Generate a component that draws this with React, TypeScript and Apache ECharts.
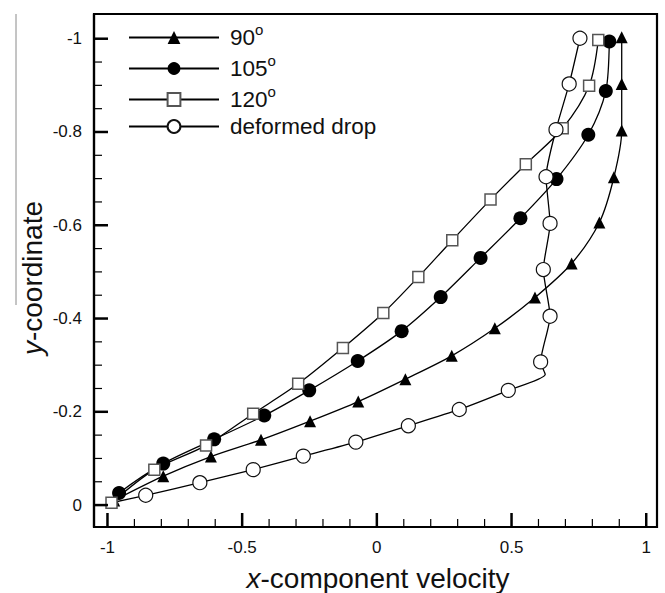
import React, { useEffect, useRef } from 'react';
import * as echarts from 'echarts';

// ---- data ----
const seriesNames = ['90°', '105°', '120°', 'deformed drop'];
const legendLabels = ['90{sup|o}', '105{sup|o}', '120{sup|o}', 'deformed drop'];

// axis extents (the frame reaches a little past the labelled range)
const xExtent = [-1.05, 1.04];
const yExtent = [-1.053, 0.047];
const xMajorTicks = [-1, -0.5, 0, 0.5, 1];
const xMinorTicks = [-0.9, -0.8, -0.7, -0.6, -0.4, -0.3, -0.2, -0.1, 0.1, 0.2, 0.3, 0.4, 0.6, 0.7, 0.8, 0.9];
const yMajorTicks = [-1, -0.8, -0.6, -0.4, -0.2, 0];
const yMinorTicks = [-0.95, -0.9, -0.85, -0.75, -0.7, -0.65, -0.55, -0.5, -0.45, -0.35, -0.3, -0.25, -0.15, -0.1, -0.05];

// 90 degrees (triangles)
const tri90X = [-0.975, -0.793, -0.616, -0.43, -0.248, -0.069, 0.106, 0.278, 0.438, 0.587, 0.723, 0.826, 0.88, 0.909, 0.909, 0.909];
const tri90Y = [-0.01, -0.062, -0.104, -0.14, -0.18, -0.222, -0.27, -0.32, -0.379, -0.445, -0.518, -0.606, -0.703, -0.803, -0.903, -1.003];

// 105 degrees (filled circles)
const dot105X = [-0.985, -0.957, -0.793, -0.604, -0.418, -0.251, -0.071, 0.092, 0.237, 0.385, 0.533, 0.667, 0.785, 0.85, 0.863];
const dot105Y = [-0.005, -0.026, -0.089, -0.141, -0.192, -0.246, -0.309, -0.373, -0.446, -0.53, -0.615, -0.699, -0.794, -0.888, -0.994];
const dot105Unmarked = [0];

// 120 degrees (squares)
const sq120X = [-0.985, -0.826, -0.634, -0.459, -0.292, -0.126, 0.024, 0.154, 0.28, 0.422, 0.553, 0.69, 0.788, 0.822];
const sq120Y = [-0.005, -0.076, -0.128, -0.196, -0.26, -0.337, -0.412, -0.489, -0.568, -0.655, -0.731, -0.808, -0.899, -0.997];

// deformed drop (open circles)
const dropX = [-0.985, -0.858, -0.657, -0.459, -0.273, -0.078, 0.117, 0.306, 0.488, 0.625, 0.608, 0.643, 0.618, 0.643, 0.628, 0.665, 0.714, 0.754];
const dropY = [-0.005, -0.021, -0.048, -0.076, -0.105, -0.135, -0.17, -0.205, -0.246, -0.28, -0.307, -0.405, -0.505, -0.604, -0.704, -0.805, -0.903, -1.001];
const dropUnmarked = [0, 9];

const FONT = 'Liberation Sans, Arial, sans-serif';

function buildData(xs: number[], ys: number[], unmarked: number[] = []) {
  return xs.map((x, i) =>
    unmarked.includes(i) ? { value: [x, ys[i]], symbol: 'none' } : [x, ys[i]]
  );
}

const fmt = (v: number) => String(Math.round(v * 100) / 100);

const GRID = { left: 94, top: 14, width: 563, height: 513 };

// linear value-axis mapping of the grid (same extents as the axes)
const xPx = (v: number) => GRID.left + ((v - xExtent[0]) / (xExtent[1] - xExtent[0])) * GRID.width;
const yPx = (v: number) => GRID.top + ((v - yExtent[0]) / (yExtent[1] - yExtent[0])) * GRID.height;

function tickGraphics(): any[] {
  const out: any[] = [];
  const bottom = yPx(yExtent[1]);
  const left = xPx(xExtent[0]);
  const addX = (values: number[], len: number, width: number) =>
    values.forEach((v) =>
      out.push({
        type: 'line',
        z: 10,
        shape: { x1: xPx(v), y1: bottom, x2: xPx(v), y2: bottom - len },
        style: { stroke: '#000', lineWidth: width },
      })
    );
  const addY = (values: number[], len: number, width: number) =>
    values.forEach((v) =>
      out.push({
        type: 'line',
        z: 10,
        shape: { x1: left, y1: yPx(v), x2: left + len, y2: yPx(v) },
        style: { stroke: '#000', lineWidth: width },
      })
    );
  addX(xMajorTicks, 14, 2.5);
  addX(xMinorTicks, 8, 1.2);
  addY(yMajorTicks, 14, 2.5);
  addY(yMinorTicks, 8, 1.2);
  return out;
}

export default function App() {
  const ref = useRef<HTMLDivElement>(null);

  useEffect(() => {
    if (!ref.current) return;
    const chart = echarts.init(ref.current, null, { renderer: 'svg' });

    const lineStyle = { color: '#000', width: 1.3 };

    const graphics: any[] = [
      {
        type: 'line',
        shape: { x1: 16, y1: 14, x2: 16, y2: 305 },
        style: { stroke: '#8a8a8a', lineWidth: 1 },
      },
      {
        type: 'text',
        x: 32,
        y: 278,
        rotation: Math.PI / 2,
        style: {
          text: '{i|y}-coordinate',
          fontSize: 28,
          fontFamily: FONT,
          fill: '#111',
          align: 'center',
          verticalAlign: 'middle',
          rich: {
            i: { fontSize: 28, fontFamily: FONT, fontStyle: 'italic', fill: '#111' },
          },
        },
      },
      {
        type: 'text',
        x: 378,
        y: 578,
        style: {
          text: '{i|x}-component velocity',
          fontSize: 28,
          fontFamily: FONT,
          fill: '#111',
          align: 'center',
          verticalAlign: 'middle',
          rich: {
            i: { fontSize: 28, fontFamily: FONT, fontStyle: 'italic', fill: '#111' },
          },
        },
      },
      ...tickGraphics(),
    ];

    chart.setOption({
      animation: false,
      grid: {
        ...GRID,
        show: true,
        borderColor: '#000',
        borderWidth: 2.2,
        backgroundColor: 'transparent',
      },
      legend: {
        orient: 'vertical',
        left: 128,
        top: 22,
        padding: 0,
        itemWidth: 90,
        itemHeight: 16,
        itemGap: 4,
        data: seriesNames,
        formatter: (name: string) => legendLabels[seriesNames.indexOf(name)],
        textStyle: {
          fontSize: 22.5,
          fontFamily: FONT,
          color: '#111',
          lineHeight: 20,
          padding: [0, 0, 0, 6],
          rich: {
            sup: {
              fontSize: 15,
              fontFamily: FONT,
              color: '#111',
              verticalAlign: 'top',
              height: 4,
              lineHeight: 4,
            },
          },
        },
      },
      xAxis: {
        type: 'value',
        min: xExtent[0],
        max: xExtent[1],
        position: 'bottom',
        axisLine: { show: true, onZero: false, lineStyle: { color: '#000', width: 2.2 } },
        axisTick: { show: false },
        minorTick: { show: false },
        axisLabel: {
          show: true,
          customValues: xMajorTicks,
          margin: 12,
          color: '#111',
          fontSize: 17,
          fontFamily: FONT,
          formatter: fmt,
        },
        splitLine: { show: false },
      },
      yAxis: {
        type: 'value',
        min: yExtent[0],
        max: yExtent[1],
        inverse: true,
        position: 'left',
        axisLine: { show: true, onZero: false, lineStyle: { color: '#000', width: 2.2 } },
        axisTick: { show: false },
        minorTick: { show: false },
        axisLabel: {
          show: true,
          customValues: yMajorTicks,
          margin: 12,
          color: '#111',
          fontSize: 17,
          fontFamily: FONT,
          formatter: fmt,
        },
        splitLine: { show: false },
      },
      graphic: graphics,
      series: [
        {
          type: 'line',
          name: seriesNames[0],
          data: buildData(tri90X, tri90Y),
          symbol: 'triangle',
          symbolSize: 12,
          smooth: 0.3,
          lineStyle,
          itemStyle: { color: '#000' },
        },
        {
          type: 'line',
          name: seriesNames[1],
          data: buildData(dot105X, dot105Y, dot105Unmarked),
          symbol: 'circle',
          symbolSize: 14,
          smooth: 0.3,
          lineStyle,
          itemStyle: { color: '#000' },
        },
        {
          type: 'line',
          name: seriesNames[2],
          data: buildData(sq120X, sq120Y),
          symbol: 'rect',
          symbolSize: 11,
          smooth: 0.3,
          lineStyle,
          itemStyle: { color: '#fff', borderColor: '#555', borderWidth: 1.5 },
        },
        {
          type: 'line',
          name: seriesNames[3],
          data: buildData(dropX, dropY, dropUnmarked),
          symbol: 'circle',
          symbolSize: 14,
          smooth: 0.2,
          lineStyle,
          itemStyle: { color: '#fff', borderColor: '#111', borderWidth: 1.2 },
        },
      ],
    });

    return () => chart.dispose();
  }, []);

  return (
    <div
      ref={ref}
      style={{ position: 'fixed', left: 0, top: 0, width: 665, height: 593, background: '#fff' }}
    />
  );
}
